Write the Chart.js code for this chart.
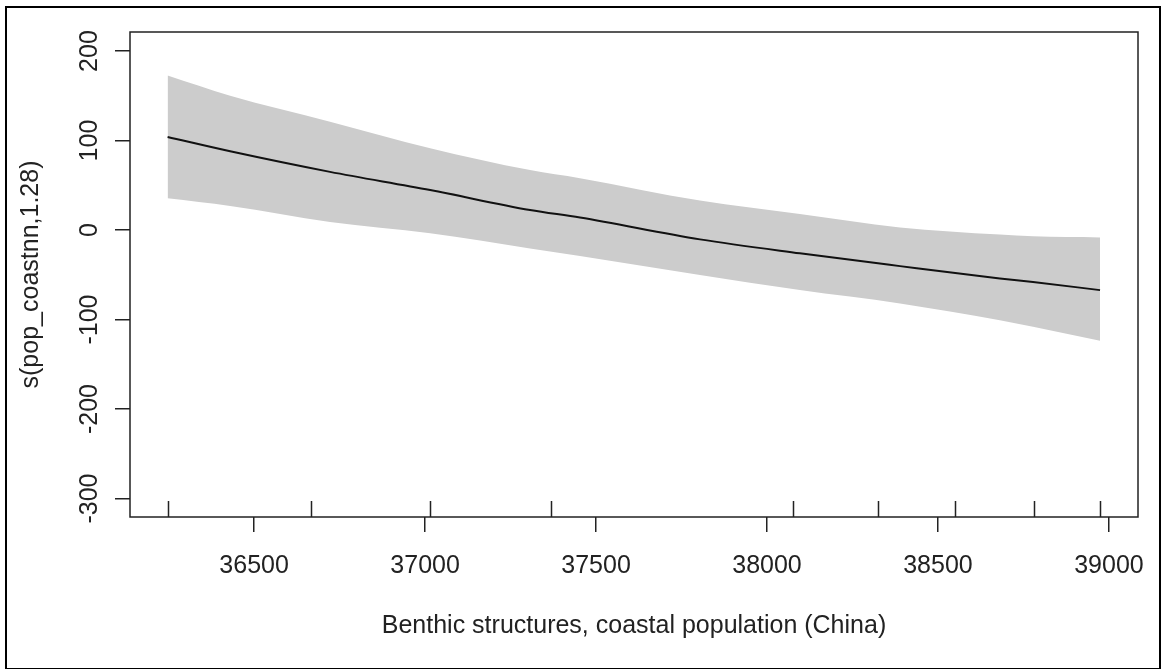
<!DOCTYPE html>
<html>
<head>
<meta charset="utf-8">
<script src="https://cdn.jsdelivr.net/npm/chart.js@4.4.1/dist/chart.umd.min.js"></script>
<style>
  html, body { margin: 0; padding: 0; background: #fff; }
  #wrap { width: 1166px; height: 669px; }
</style>
</head>
<body>
<div id="wrap"><canvas id="gamPlot" width="1166" height="669"></canvas></div>
<script>
// smooth term s(pop_coastnn,1.28)
var popX = [36247, 36430, 36722, 37015, 37307, 37453, 37804, 38096, 38389, 38681, 38778, 38974];
var fitY = [104, 88, 65, 44.7, 22.4, 14, -10.4, -26, -40.3, -54, -58, -67.1];
var upperY = [172.6, 150, 121, 91.4, 67, 58, 33, 18, 3, -5, -7, -8.2];
var lowerY = [35.5, 27, 9, -3.7, -20.5, -29, -50.3, -67, -82, -100.7, -108, -123.8];

// rug of observed covariate values
var rugX = [36248, 36667, 37015, 37368, 38076, 38325, 38550, 38781, 38974];

var xTicks = [36500, 37000, 37500, 38000, 38500, 39000];
var yTicks = [-300, -200, -100, 0, 100, 200];

var xTitle = "Benthic structures, coastal population (China)";
var yTitle = "s(pop_coastnn,1.28)";

function pts(xs, ys) {
  return xs.map(function (x, i) { return { x: x, y: ys[i] }; });
}

var FONT = '25px "Liberation Sans", Arial, sans-serif';
var INK = "#222";

// R-style frame, rug, labels
var rFrame = {
  id: "rFrame",
  afterDraw: function (chart) {
    var ctx = chart.ctx;
    var a = chart.chartArea;
    var xs = chart.scales.x;
    var ys = chart.scales.y;
    ctx.save();
    ctx.strokeStyle = INK;
    ctx.lineWidth = 1.5;
    ctx.strokeRect(a.left, a.top, a.right - a.left, a.bottom - a.top);

    // rug
    ctx.beginPath();
    rugX.forEach(function (v) {
      var px = Math.round(xs.getPixelForValue(v)) + 0.5;
      ctx.moveTo(px, a.bottom);
      ctx.lineTo(px, a.bottom - 16);
    });
    ctx.stroke();

    ctx.fillStyle = INK;
    ctx.font = FONT;
    ctx.textAlign = "center";
    ctx.textBaseline = "alphabetic";
    xs.ticks.forEach(function (t) {
      ctx.fillText(String(t.value), xs.getPixelForValue(t.value), 573);
    });
    ys.ticks.forEach(function (t) {
      ctx.save();
      ctx.translate(97, ys.getPixelForValue(t.value));
      ctx.rotate(-Math.PI / 2);
      ctx.fillText(String(t.value), 0, 0);
      ctx.restore();
    });
    ctx.fillText(xTitle, (a.left + a.right) / 2, 633);
    ctx.save();
    ctx.translate(38, (a.top + a.bottom) / 2);
    ctx.rotate(-Math.PI / 2);
    ctx.fillText(yTitle, 0, 0);
    ctx.restore();

    // outer picture border
    ctx.strokeStyle = "#000";
    ctx.lineWidth = 2;
    ctx.strokeRect(6, 7, 1154, 662);
    ctx.restore();
  },
};

function tickGrid() {
  return {
    drawOnChartArea: false,
    drawTicks: true,
    tickLength: 15,
    color: INK,
    lineWidth: 1.5,
  };
}

new Chart(document.getElementById("gamPlot"), {
  type: "line",
  data: {
    datasets: [
      {
        label: "upper",
        data: pts(popX, upperY),
        borderWidth: 0,
        pointRadius: 0,
        backgroundColor: "#cccccc",
        fill: "+1",
        order: 2,
      },
      {
        label: "lower",
        data: pts(popX, lowerY),
        borderWidth: 0,
        pointRadius: 0,
        fill: false,
        order: 1,
      },
      {
        label: "fit",
        data: pts(popX, fitY),
        borderColor: "#111",
        borderWidth: 2,
        pointRadius: 0,
        fill: false,
        order: 0,
      },
    ],
  },
  options: {
    responsive: false,
    animation: false,
    elements: { line: { cubicInterpolationMode: "monotone" } },
    layout: { padding: { left: 0, top: 32, right: 28, bottom: 0 } },
    plugins: {
      legend: { display: false },
      tooltip: { enabled: false },
    },
    scales: {
      x: {
        type: "linear",
        min: 36137,
        max: 39085,
        afterBuildTicks: function (s) {
          s.ticks = xTicks.map(function (v) { return { value: v }; });
        },
        afterFit: function (s) { s.height = 152; },
        ticks: { display: false },
        grid: tickGrid(),
        border: { display: false },
      },
      y: {
        type: "linear",
        min: -320.6,
        max: 221.3,
        afterBuildTicks: function (s) {
          s.ticks = yTicks.map(function (v) { return { value: v }; });
        },
        afterFit: function (s) { s.width = 130; },
        ticks: { display: false },
        grid: tickGrid(),
        border: { display: false },
      },
    },
  },
  plugins: [rFrame],
});
</script>
</body>
</html>
